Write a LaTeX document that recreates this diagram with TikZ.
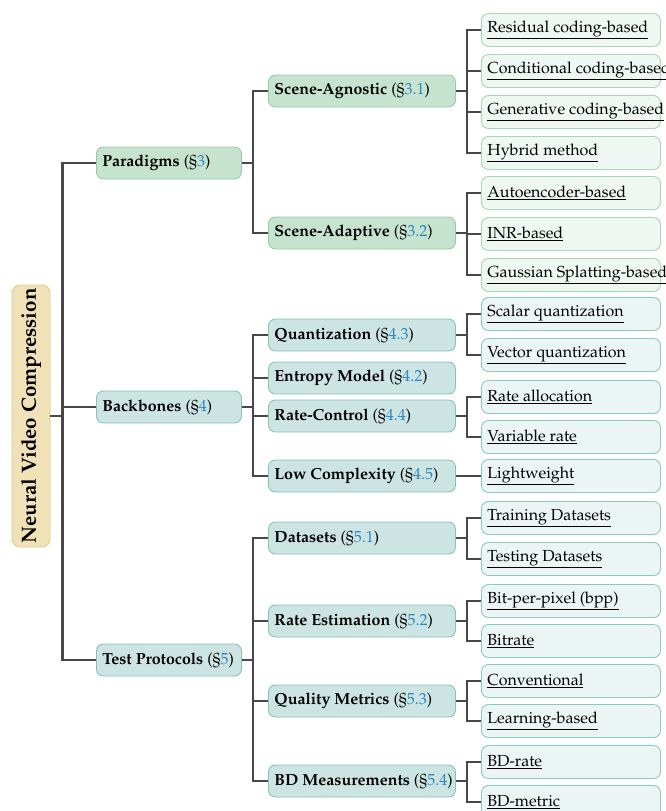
\documentclass[tikz,border=0pt]{standalone}
\usepackage[T1]{fontenc}
\renewcommand{\rmdefault}{ppl}
\usepackage{xcolor}
\definecolor{rootfill}{HTML}{F0E2B6}
\definecolor{rootdraw}{HTML}{E0CC8E}
\definecolor{gfill}{HTML}{C6E3CF}
\definecolor{gdraw}{HTML}{97CBA8}
\definecolor{glfill}{HTML}{EEF7F1}
\definecolor{gldraw}{HTML}{A7D5B5}
\definecolor{tfill}{HTML}{CCE4E2}
\definecolor{tdraw}{HTML}{86C3BB}
\definecolor{tlfill}{HTML}{EBF5F4}
\definecolor{tldraw}{HTML}{8CCAC1}
\definecolor{linec}{HTML}{484848}
\definecolor{secblue}{HTML}{2B86C5}
\newcommand{\sref}[1]{\textmd{(\S\textcolor{secblue}{#1})}}
\newcommand{\lone}[1]{\makebox[133pt][l]{\textbf{#1}}}
\newcommand{\ltwo}[1]{\makebox[175pt][l]{\textbf{#1}}}
\newcommand{\lthree}[1]{\makebox[167pt][l]{\underline{#1}}}
\begin{document}
\begin{tikzpicture}[x=1pt,y=-1pt,
  box/.style={rounded corners=7pt, line width=0.9pt, inner xsep=6pt, inner ysep=0pt,
     minimum height=32pt, anchor=west, font=\fontsize{16}{19}\selectfont},
  rootbox/.style={rounded corners=8pt, line width=0.9pt, fill=rootfill, draw=rootdraw,
     rotate=90, minimum width=262pt, minimum height=38pt, inner sep=0pt,
     font=\fontsize{20.5}{24}\selectfont\bfseries},
  gbox/.style={box, fill=gfill, draw=gdraw},
  glbox/.style={box, fill=glfill, draw=gldraw, minimum height=33pt},
  tbox/.style={box, fill=tfill, draw=tdraw},
  tlbox/.style={box, fill=tlfill, draw=tldraw, minimum height=33pt},
  conn/.style={draw=linec, line width=2.2pt}]
\useasboundingbox (0,0) rectangle (665,811);

\node[rootbox] (root) at (31,416) {Neural Video Compression};

% level 1
\node[gbox] (para) at (96,163) {\lone{Paradigms \sref{3}}};
\node[tbox] (back) at (96,407) {\lone{Backbones \sref{4}}};
\node[tbox] (test) at (96,660) {\lone{Test Protocols \sref{5}}};

% level 2
\node[gbox] (agn) at (268,91) {\ltwo{Scene-Agnostic \sref{3.1}}};
\node[gbox] (adp) at (268,233) {\ltwo{Scene-Adaptive \sref{3.2}}};
\node[tbox] (quant) at (268,335) {\ltwo{Quantization \sref{4.3}}};
\node[tbox] (entr) at (268,378) {\ltwo{Entropy Model \sref{4.2}}};
\node[tbox] (rate) at (268,416) {\ltwo{Rate-Control \sref{4.4}}};
\node[tbox] (lowc) at (268,476) {\ltwo{Low Complexity \sref{4.5}}};
\node[tbox] (data) at (268,538) {\ltwo{Datasets \sref{5.1}}};
\node[tbox] (rest) at (268,621) {\ltwo{Rate Estimation \sref{5.2}}};
\node[tbox] (qual) at (268,701) {\ltwo{Quality Metrics \sref{5.3}}};
\node[tbox] (bdm) at (268,781) {\ltwo{BD Measurements \sref{5.4}}};

% level 3
\node[glbox] (res) at (481,30) {\lthree{Residual coding-based}};
\node[glbox] (cond) at (481,71) {\lthree{Conditional coding-based}};
\node[glbox] (gen) at (481,112) {\lthree{Generative coding-based}};
\node[glbox] (hyb) at (481,153) {\lthree{Hybrid method}};
\node[glbox] (ae) at (481,193) {\lthree{Autoencoder-based}};
\node[glbox] (inr) at (481,234) {\lthree{INR-based}};
\node[glbox] (gs) at (481,275) {\lthree{Gaussian Splatting-based}};
\node[tlbox] (sq) at (481,314) {\lthree{Scalar quantization}};
\node[tlbox] (vq) at (481,355) {\lthree{Vector quantization}};
\node[tlbox] (ra) at (481,397) {\lthree{Rate allocation}};
\node[tlbox] (vr) at (481,437) {\lthree{Variable rate}};
\node[tlbox] (lw) at (481,476) {\lthree{Lightweight}};
\node[tlbox] (trd) at (481,518) {\lthree{Training Datasets}};
\node[tlbox] (ted) at (481,559) {\lthree{Testing Datasets}};
\node[tlbox] (bpp) at (481,601) {\lthree{Bit-per-pixel (bpp)}};
\node[tlbox] (br) at (481,641) {\lthree{Bitrate}};
\node[tlbox] (conv) at (481,681) {\lthree{Conventional}};
\node[tlbox] (lb) at (481,721) {\lthree{Learning-based}};
\node[tlbox] (bdr) at (481,762) {\lthree{BD-rate}};
\node[tlbox] (bdmet) at (481,802) {\lthree{BD-metric}};

% connectors
\foreach \c in {para,back,test} \draw[conn] (root.south) -- ++(12,0) |- (\c.west);
\foreach \c in {agn,adp} \draw[conn] (para.east) -- ++(11,0) |- (\c.west);
\foreach \c in {quant,entr,rate,lowc} \draw[conn] (back.east) -- ++(11,0) |- (\c.west);
\foreach \c in {data,rest,qual,bdm} \draw[conn] (test.east) -- ++(11,0) |- (\c.west);
\foreach \c in {res,cond,gen,hyb} \draw[conn] (agn.east) -- ++(11,0) |- (\c.west);
\foreach \c in {ae,inr,gs} \draw[conn] (adp.east) -- ++(11,0) |- (\c.west);
\foreach \c in {sq,vq} \draw[conn] (quant.east) -- ++(11,0) |- (\c.west);
\foreach \c in {ra,vr} \draw[conn] (rate.east) -- ++(11,0) |- (\c.west);
\draw[conn] (lowc.east) -- (lw.west);
\foreach \c in {trd,ted} \draw[conn] (data.east) -- ++(11,0) |- (\c.west);
\foreach \c in {bpp,br} \draw[conn] (rest.east) -- ++(11,0) |- (\c.west);
\foreach \c in {conv,lb} \draw[conn] (qual.east) -- ++(11,0) |- (\c.west);
\foreach \c in {bdr,bdmet} \draw[conn] (bdm.east) -- ++(11,0) |- (\c.west);
\end{tikzpicture}
\end{document}
